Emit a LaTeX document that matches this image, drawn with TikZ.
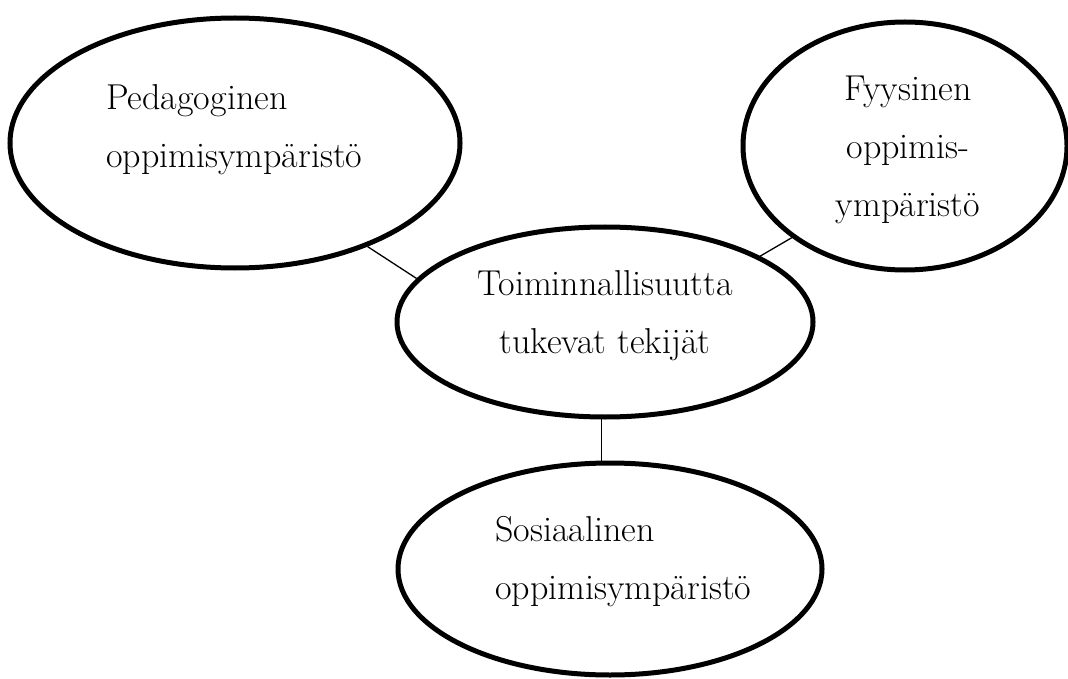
\documentclass[tikz,border=0pt]{standalone}
\usetikzlibrary{shapes.geometric}
\begin{document}
\begin{tikzpicture}[x=1pt,y=-1pt,
  bubble/.style={ellipse, draw, line width=5pt, inner sep=0pt},
  lbl/.style={inner sep=0pt, font=\fontsize{36}{58}\selectfont},
  link/.style={line width=1.3pt}]
\useasboundingbox (0,0) rectangle (1068,679);
% ellipses
\node[bubble, minimum width=450pt, minimum height=250pt] (ped) at (235,143){};
\node[bubble, minimum width=324pt, minimum height=248pt] (fys) at (905,146){};
\node[bubble, minimum width=416pt, minimum height=190pt] (ctr) at (605,322){};
\node[bubble, minimum width=424pt, minimum height=212pt] (sos) at (610,569){};
% texts
\node[lbl, align=left, anchor=west] (pedtxt) at (106,130){Pedagoginen\\oppimisympäristö};
\node[lbl, align=center] (fystxt) at (908,150){Fyysinen\\oppimis-\\ympäristö};
\node[lbl, align=center] (ctrtxt) at (605,316){Toiminnallisuutta\\tukevat tekijät};
\node[lbl, align=left, anchor=west] (sostxt) at (495,562){Sosiaalinen\\oppimisympäristö};
% links
\draw[link] (ped.-38) -- (ctr.167);
\draw[link] (fys.-141) -- (ctr.23);
\draw[link] (ctr.268) -- (ctr.268 |- sos.north);
\end{tikzpicture}
\end{document}
